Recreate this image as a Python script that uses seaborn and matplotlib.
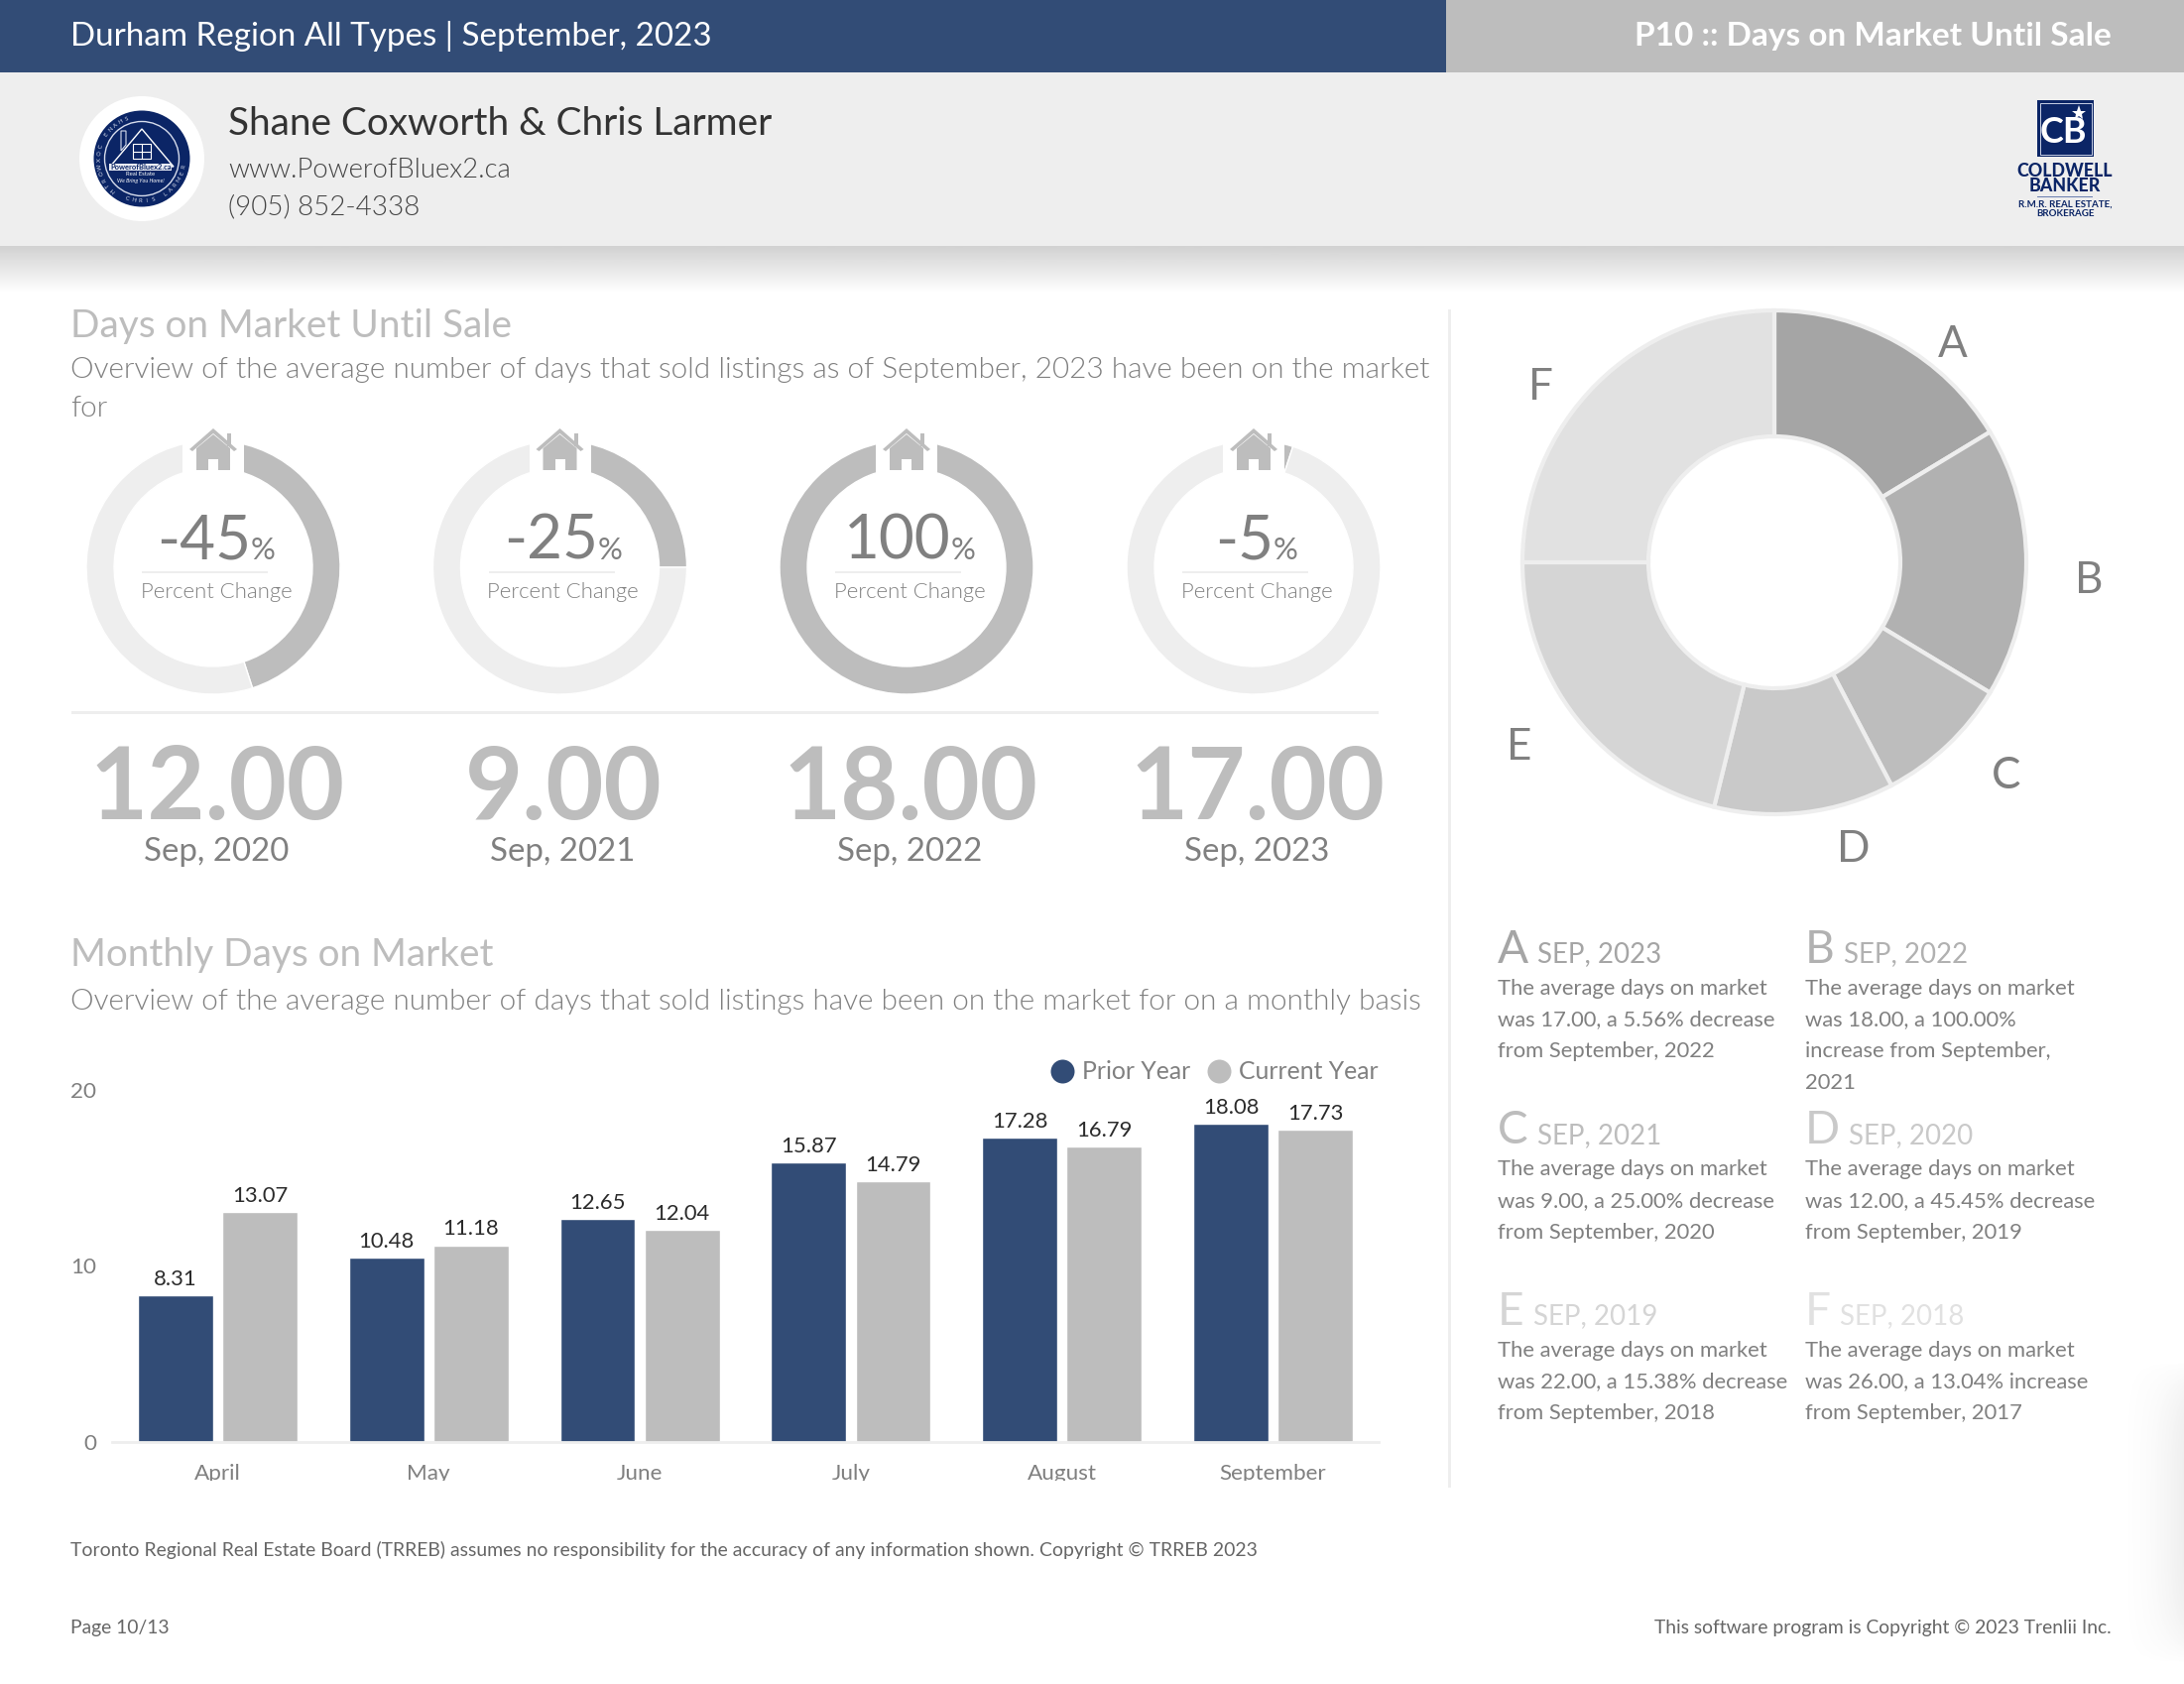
import numpy as np
import pandas as pd
import matplotlib
matplotlib.use('Agg')
import matplotlib.pyplot as plt
import seaborn as sns
from matplotlib.lines import Line2D
from matplotlib.patches import Circle, Rectangle, Polygon

# data
months = ['April', 'May', 'June', 'July', 'August', 'September']
prior_year = [8.31, 10.48, 12.65, 15.87, 17.28, 18.08]
current_year = [13.07, 11.18, 12.04, 14.79, 16.79, 17.73]

gauge_change = [-45, -25, 100, -5]
gauge_days = [12.00, 9.00, 18.00, 17.00]
gauge_dates = ['Sep, 2020', 'Sep, 2021', 'Sep, 2022', 'Sep, 2023']

pie_letters = ['A', 'B', 'C', 'D', 'E', 'F']
pie_values = [17, 18, 9, 12, 22, 26]
pie_dates = ['SEP, 2023', 'SEP, 2022', 'SEP, 2021', 'SEP, 2020', 'SEP, 2019', 'SEP, 2018']
pie_notes = [
    ['The average days on market', 'was 17.00, a 5.56% decrease', 'from September, 2022'],
    ['The average days on market', 'was 18.00, a 100.00%', 'increase from September,', '2021'],
    ['The average days on market', 'was 9.00, a 25.00% decrease', 'from September, 2020'],
    ['The average days on market', 'was 12.00, a 45.45% decrease', 'from September, 2019'],
    ['The average days on market', 'was 22.00, a 15.38% decrease', 'from September, 2018'],
    ['The average days on market', 'was 26.00, a 13.04% increase', 'from September, 2017'],
]

# colours
BLUE = '#324c76'
GREY = '#bdbdbd'
PALE = '#eeeeee'
TEXT = '#808080'
NAVY = '#0b2566'
LIGHT = 300
pie_colors = ['#a5a5a5', '#b1b1b1', '#bdbdbd', '#c9c9c9', '#d5d5d5', '#e1e1e1']

W, H = 2202, 1698
sns.set_theme(style='white')
plt.rcParams['font.family'] = ['Lato', 'DejaVu Sans']

fig = plt.figure(figsize=(W / 100, H / 100), dpi=100, facecolor='white')


def px_axes(x0, y0, x1, y1, **kw):
    # axes from pixel box, y measured from the top
    return fig.add_axes([x0 / W, 1 - y1 / H, (x1 - x0) / W, (y1 - y0) / H], **kw)


bg = px_axes(0, 0, W, H, zorder=0)
top = px_axes(0, 0, W, H, zorder=5)
top.patch.set_alpha(0)
renderer = fig.canvas.get_renderer()


def txt(x, y, s, px, color=TEXT, weight='normal', ha='left', va='baseline', ax=top, **kw):
    return ax.text(x, y, s, fontsize=px * 0.72, color=color, fontweight=weight, ha=ha, va=va, **kw)


def rect(ax, x0, y0, x1, y1, color, **kw):
    ax.add_patch(Rectangle((x0, y0), x1 - x0, y1 - y0, facecolor=color, edgecolor='none', **kw))


# page background pieces
shade = np.linspace(0, 1, 60).reshape(-1, 1)
bg.imshow(shade, extent=(0, W, 295, 248), cmap='gray', vmin=-4.6, vmax=1, aspect='auto')
glow = np.zeros((60, 60, 4))
xx, yy = np.meshgrid(np.linspace(0, 1, 60), np.linspace(-1, 1, 60))
glow[..., :3] = 0.45
glow[..., 3] = np.clip(xx - 0.15, 0, 1) ** 2 * np.clip(1 - yy ** 4, 0, 1) * 0.16
bg.imshow(glow, extent=(2120, W, 1680, 1370), aspect='auto')
rect(bg, 0, 0, 1458, 73, BLUE)
rect(bg, 1458, 0, W, 73, GREY)
rect(bg, 0, 73, W, 248, PALE)
rect(bg, 72, 717, 1390, 720, PALE)
rect(bg, 1460, 312, 1463, 1500, PALE)
for a in (bg, top):
    a.set_xlim(0, W)
    a.set_ylim(H, 0)
    a.axis('off')

# header
txt(71, 46, 'Durham Region All Types | September, 2023', 33.1, 'white')
txt(2129, 46, 'P10 :: Days on Market Until Sale', 33.4, 'white', weight='bold', ha='right')
txt(230, 136, 'Shane Coxworth & Chris Larmer', 38.8, '#333333')
txt(230, 179, 'www.PowerofBluex2.ca', 27.5, '#444444', weight=LIGHT)
txt(230, 216, '(905) 852-4338', 27.8, '#444444', weight=LIGHT)

# round logo
top.add_patch(Circle((143, 160), 63, facecolor='white', edgecolor='none'))
top.add_patch(Circle((143, 160), 48.5, facecolor=NAVY, edgecolor='none'))
top.add_patch(Circle((143, 160), 37.5, facecolor='none', edgecolor='#d6dcec', lw=1))
top.add_patch(Polygon([(111, 168), (143, 130), (175, 168)], closed=True, facecolor='none', edgecolor='white', lw=1))
top.add_patch(Polygon([(122, 152), (122, 132), (127, 132), (127, 146)], closed=True, facecolor='none', edgecolor='#d6dcec', lw=0.8))
top.add_patch(Rectangle((134, 145), 18, 15, facecolor='none', edgecolor='white', lw=0.8))
top.plot([143, 143], [145, 160], color='white', lw=0.8)
top.plot([134, 152], [152.5, 152.5], color='white', lw=0.8)
rect(top, 110, 165, 173, 172, '#e9ecf4')
txt(142, 168.5, 'PowerofBluex2.ca', 7.5, NAVY, weight='bold', ha='center', va='center')
txt(142, 175.5, 'Real Estate', 6, 'white', ha='center', va='center')
txt(142, 182.5, "We Bring You Home!", 5.5, 'white', ha='center', va='center', style='italic')
for label, start in (('SHANE COXWORTH', 250), ('CHRIS LARMER', 20)):
    for i, ch in enumerate(label):
        ang = np.radians(start - i * 9 if start > 100 else start + 90 - i * 9)
        txt(143 + 43 * np.cos(ang), 160 + 43 * np.sin(ang), ch, 6, '#d6dcec', ha='center', va='center',
            rotation=-np.degrees(ang) - 90 if start > 100 else -np.degrees(ang) + 90)

# broker logo
rect(top, 2054, 101, 2111, 158, NAVY)
top.add_patch(Rectangle((2056.5, 103.5), 52, 52, facecolor='none', edgecolor='#c8d0e4', lw=0.7))
txt(2080, 133, 'CB', 36, 'white', ha='center', va='center', weight='bold')
top.plot([2096], [114], marker='*', color='white', markersize=11, markeredgewidth=0)
txt(2082, 172, 'COLDWELL', 17.7, NAVY, weight='black', ha='center', va='center')
txt(2082, 187, 'BANKER', 17.7, NAVY, weight='black', ha='center', va='center')
rect(top, 2054, 197.5, 2110, 198.5, '#6b7fb0')
txt(2082, 206, 'R.M.R. REAL ESTATE,', 9.8, NAVY, weight='bold', ha='center', va='center')
txt(2082, 215, 'BROKERAGE', 9.8, NAVY, weight='bold', ha='center', va='center')

# section titles
txt(71, 340, 'Days on Market Until Sale', 38.8, GREY)
txt(71, 381, 'Overview of the average number of days that sold listings as of September, 2023 have been on the market', 29.75, TEXT, weight=LIGHT)
txt(71, 420, 'for', 29.75, TEXT, weight=LIGHT)
txt(71, 974, 'Monthly Days on Market', 38.8, GREY)
txt(71, 1018, 'Overview of the average number of days that sold listings have been on the market for on a monthly basis', 29.7, TEXT, weight=LIGHT)

# gauges
gauge_cx = [215, 564.5, 914, 1264]
gauge_cy = 572
gauge_r = 128
for cx, change, days, date in zip(gauge_cx, gauge_change, gauge_days, gauge_dates):
    ax = px_axes(cx - gauge_r - 2, gauge_cy - gauge_r - 2, cx + gauge_r + 2, gauge_cy + gauge_r + 2, zorder=1)
    size = abs(change)
    ax.pie([size, 100 - size], startangle=90, counterclock=False, colors=[GREY, PALE], radius=1,
           wedgeprops={'width': 28 / 128})
    ax.set_xlim(-130 / 128, 130 / 128)
    ax.set_ylim(-130 / 128, 130 / 128)

    # the gap and the house at the top of the ring
    rect(top, cx - 31, 430, cx + 31, 482, 'white')
    top.add_patch(Polygon([(cx - 24, 453), (cx, 432), (cx + 24, 453), (cx + 21, 455), (cx, 437), (cx - 21, 455)],
                          closed=True, facecolor=GREY, edgecolor='none'))
    top.add_patch(Polygon([(cx - 17, 474), (cx - 17, 452), (cx, 438), (cx + 17, 452), (cx + 17, 474)],
                          closed=True, facecolor=GREY, edgecolor='none'))
    rect(top, cx - 5, 463, cx + 5, 474, 'white')
    rect(top, cx + 14, 437, cx + 18, 450, GREY)

    # number and its small percent sign, centred together
    big = txt(0, 564, str(change), 62, TEXT, ha='left')
    small = txt(0, 564, '%', 31, TEXT, ha='left')
    w1 = big.get_window_extent(renderer).width
    w2 = small.get_window_extent(renderer).width
    x0 = cx + 3 - (w1 + w2) / 2
    big.set_x(x0)
    small.set_x(x0 + w1)
    rect(top, cx - 72, 575.5, cx + 55, 578, PALE)
    txt(cx + 3, 603, 'Percent Change', 22.2, TEXT, weight=LIGHT, ha='center')
    txt(cx + 4, 826, '%.2f' % days, 100.5, GREY, weight='bold', ha='center')
    txt(cx + 3, 868, date, 33, TEXT, ha='center')

# monthly bars
df = pd.DataFrame({
    'month': months * 2,
    'days': prior_year + current_year,
    'series': ['Prior Year'] * len(months) + ['Current Year'] * len(months),
})
ax_bar = px_axes(113, 1099, 1390, 1454, zorder=2)
ax_bar.patch.set_alpha(0)
sns.barplot(data=df, x='month', y='days', hue='series', order=months, palette=[BLUE, GREY],
            width=0.8, gap=0.11, saturation=1, legend=False, ax=ax_bar)
ax_bar.set_ylim(0, 20)
ax_bar.set_yticks([0, 10, 20])
ax_bar.set_xlabel('')
ax_bar.set_ylabel('')
ax_bar.tick_params(axis='both', length=0, colors=TEXT)
ax_bar.tick_params(axis='y', labelsize=22.5 * 0.72, pad=11.5)
ax_bar.tick_params(axis='x', labelsize=22.5 * 0.72, pad=16)
sns.despine(ax=ax_bar, left=True)
ax_bar.spines['bottom'].set_color(PALE)
ax_bar.spines['bottom'].set_linewidth(2)
for bars in ax_bar.containers:
    ax_bar.bar_label(bars, fmt='%.2f', fontsize=22 * 0.72, color='#2b2b2b', padding=4.5)
handles = [Line2D([], [], linestyle='', marker='o', markersize=24 * 0.72, markeredgewidth=0, color=c, label=n)
           for c, n in ((BLUE, 'Prior Year'), (GREY, 'Current Year'))]
ax_bar.legend(handles=handles, ncols=2, frameon=False, loc='center right', bbox_to_anchor=(1.0, 1.051),
              fontsize=24.8 * 0.72, labelcolor=TEXT, handlelength=1, handletextpad=0.33, columnspacing=0.64,
              borderpad=0, borderaxespad=0)
# the month labels are cut at the bottom in the page
rect(top, 113, 1493, 1390, 1510, 'white')

# doughnut on the right
ax_pie = px_axes(1789 - 258, 567 - 258, 1789 + 258, 567 + 258, zorder=1)
ax_pie.pie(pie_values, startangle=90, counterclock=False, colors=pie_colors, radius=1,
           wedgeprops={'width': 127 / 254, 'edgecolor': PALE, 'linewidth': 3})
ax_pie.set_xlim(-258 / 254, 258 / 254)
ax_pie.set_ylim(-258 / 254, 258 / 254)

pie_label_xy = [(1969, 347), (2106, 585), (2023, 782), (1869, 856), (1532, 753), (1553, 390)]
for letter, (x, y) in zip(pie_letters, pie_label_xy):
    txt(x, y, letter, 44, TEXT, ha='center', va='center')

# notes under the doughnut
note_x = [1510, 1820]
note_base = [970.5, 1153, 1335.5]
for i, (letter, date, lines, color) in enumerate(zip(pie_letters, pie_dates, pie_notes, pie_colors)):
    x = note_x[i % 2]
    y = note_base[i // 2]
    head = txt(x, y, letter, 46, color)
    txt(x + head.get_window_extent(renderer).width + 9, y, date, 27.6, color)
    for j, line in enumerate(lines):
        txt(x, y + 32.2 + j * 31.7, line, 22, TEXT)

# footer
txt(71, 1569, 'Toronto Regional Real Estate Board (TRREB) assumes no responsibility for the accuracy of any information shown. Copyright © TRREB 2023', 19.35, '#666666')
txt(71, 1647, 'Page 10/13', 19.3, '#666666')
txt(2129, 1647, 'This software program is Copyright © 2023 Trenlii Inc.', 19.3, '#666666', ha='right')

fig.savefig('out.png', dpi=100)
